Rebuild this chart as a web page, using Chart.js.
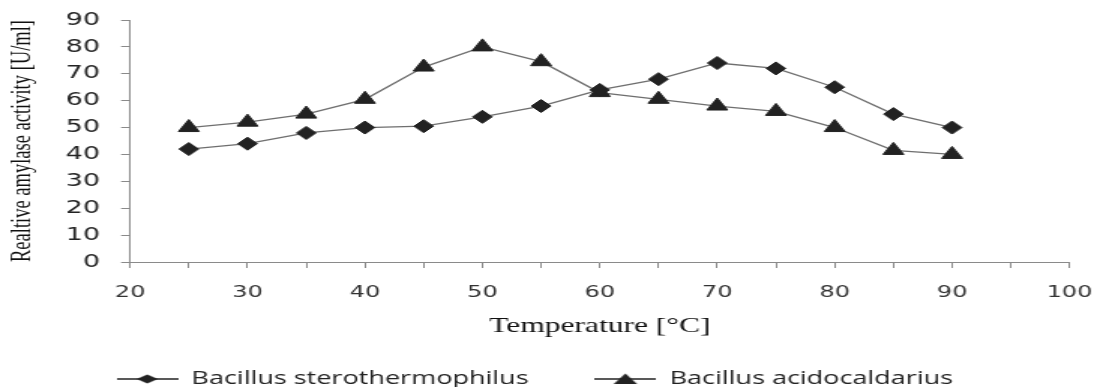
<!DOCTYPE html>
<html lang="en">
<head>
<meta charset="utf-8">
<title>Amylase activity vs temperature</title>
<script src="https://cdn.jsdelivr.net/npm/chart.js"></script>
<style>
  html, body { margin: 0; padding: 0; background: #fff; overflow: hidden; }
</style>
</head>
<body>
<!-- the source figure is stretched sideways, so the canvas is drawn narrow and widened by css -->
<canvas id="myChart" width="729" height="387" style="width:1094px;height:387px;display:block"></canvas>
<script>
const temperatures = [25, 30, 35, 40, 45, 50, 55, 60, 65, 70, 75, 80, 85, 90];
const sterothermophilus = [42, 44, 48, 50, 50.5, 54, 58, 64, 68, 74, 72, 65, 55, 50];
const acidocaldarius = [50, 52, 55, 60.5, 72.5, 80, 74.5, 63, 60.5, 58, 56, 50, 41.5, 40];
const seriesNames = ['Bacillus sterothermophilus', 'Bacillus acidocaldarius'];
const xTickLabels = [20, 30, 40, 50, 60, 70, 80, 90, 100];
const yTickLabels = [0, 10, 20, 30, 40, 50, 60, 70, 80, 90];

const ink = '#222';
const lineGray = '#6f6f6f';
const axisGray = '#8a8a8a';

// little line + marker pictures for the legend
function legendMarker(shape) {
  const c = document.createElement('canvas');
  c.width = 41; c.height = 16;
  const g = c.getContext('2d');
  g.strokeStyle = ink; g.lineWidth = 1.3;
  g.beginPath(); g.moveTo(0, 8); g.lineTo(41, 8); g.stroke();
  g.fillStyle = ink;
  g.beginPath();
  if (shape === 'diamond') {
    g.moveTo(13.5, 8); g.lineTo(20.5, 3.5); g.lineTo(27.5, 8); g.lineTo(20.5, 12.5);
  } else {
    g.moveTo(12.7, 13); g.lineTo(20.5, 2.5); g.lineTo(28.3, 13);
  }
  g.closePath(); g.fill();
  return c;
}
const legendImages = [legendMarker('diamond'), legendMarker('triangle')];

const ctx = document.getElementById('myChart').getContext('2d');

new Chart(ctx, {
  type: 'line',
  data: {
    datasets: [{
      label: seriesNames[0],
      data: temperatures.map((t, i) => ({x: t, y: sterothermophilus[i]})),
      borderColor: lineGray,
      borderWidth: 1.3,
      pointStyle: 'rectRot',
      pointRadius: 6.5,
      pointBackgroundColor: ink,
      pointBorderColor: ink,
      pointBorderWidth: 1,
      tension: 0
    }, {
      label: seriesNames[1],
      data: temperatures.map((t, i) => ({x: t, y: acidocaldarius[i]})),
      borderColor: lineGray,
      borderWidth: 1.3,
      pointStyle: 'triangle',
      pointRadius: 8,
      pointBackgroundColor: ink,
      pointBorderColor: ink,
      pointBorderWidth: 1,
      tension: 0
    }]
  },
  options: {
    responsive: false,
    animation: false,
    layout: { padding: { top: 20, right: 16.3, left: 0, bottom: 0 } },
    plugins: {
      tooltip: { enabled: false },
      legend: {
        position: 'bottom',
        maxHeight: 61,
        labels: {
          usePointStyle: true,
          pointStyleWidth: 41,
          padding: 44,
          color: ink,
          font: { family: 'Open Sans', size: 18 },
          generateLabels(chart) {
            const items = Chart.defaults.plugins.legend.labels.generateLabels(chart);
            items.forEach((it, i) => { it.pointStyle = legendImages[i]; });
            return items;
          }
        }
      }
    },
    scales: {
      x: {
        type: 'linear',
        min: 20,
        max: 100,
        afterFit(scale) { scale.height = 64; scale.paddingRight = 12; },
        border: { color: axisGray, width: 1 },
        grid: { drawOnChartArea: false, tickLength: 6, color: axisGray, tickColor: axisGray },
        ticks: {
          stepSize: 5,
          autoSkip: false,
          maxRotation: 0,
          padding: 15,
          color: '#333',
          font: { family: 'DejaVu Sans', size: 16 },
          callback: (v) => xTickLabels.includes(v) ? String(v) : ''
        },
        title: {
          display: true,
          text: 'Temperature [°C]',
          color: '#111',
          font: { family: 'Liberation Serif', size: 21 },
          padding: { top: 0, bottom: -12.6 }
        }
      },
      y: {
        min: 0,
        max: 90,
        afterFit(scale) { scale.width = 86.7; scale.paddingTop = 10; },
        border: { color: axisGray, width: 1 },
        grid: { drawOnChartArea: false, tickLength: 6, color: axisGray, tickColor: axisGray },
        ticks: {
          stepSize: 10,
          padding: 14,
          color: ink,
          font: { family: 'DejaVu Sans', size: 18 },
          callback: (v) => yTickLabels.includes(v) ? String(v) : ''
        },
        title: {
          display: true,
          text: 'Realtive amylase activity [U/ml]',
          color: '#111',
          font: { family: 'Liberation Serif', size: 18.5 },
          padding: { top: 4, bottom: 0 }
        }
      }
    }
  }
});
</script>
</body>
</html>
